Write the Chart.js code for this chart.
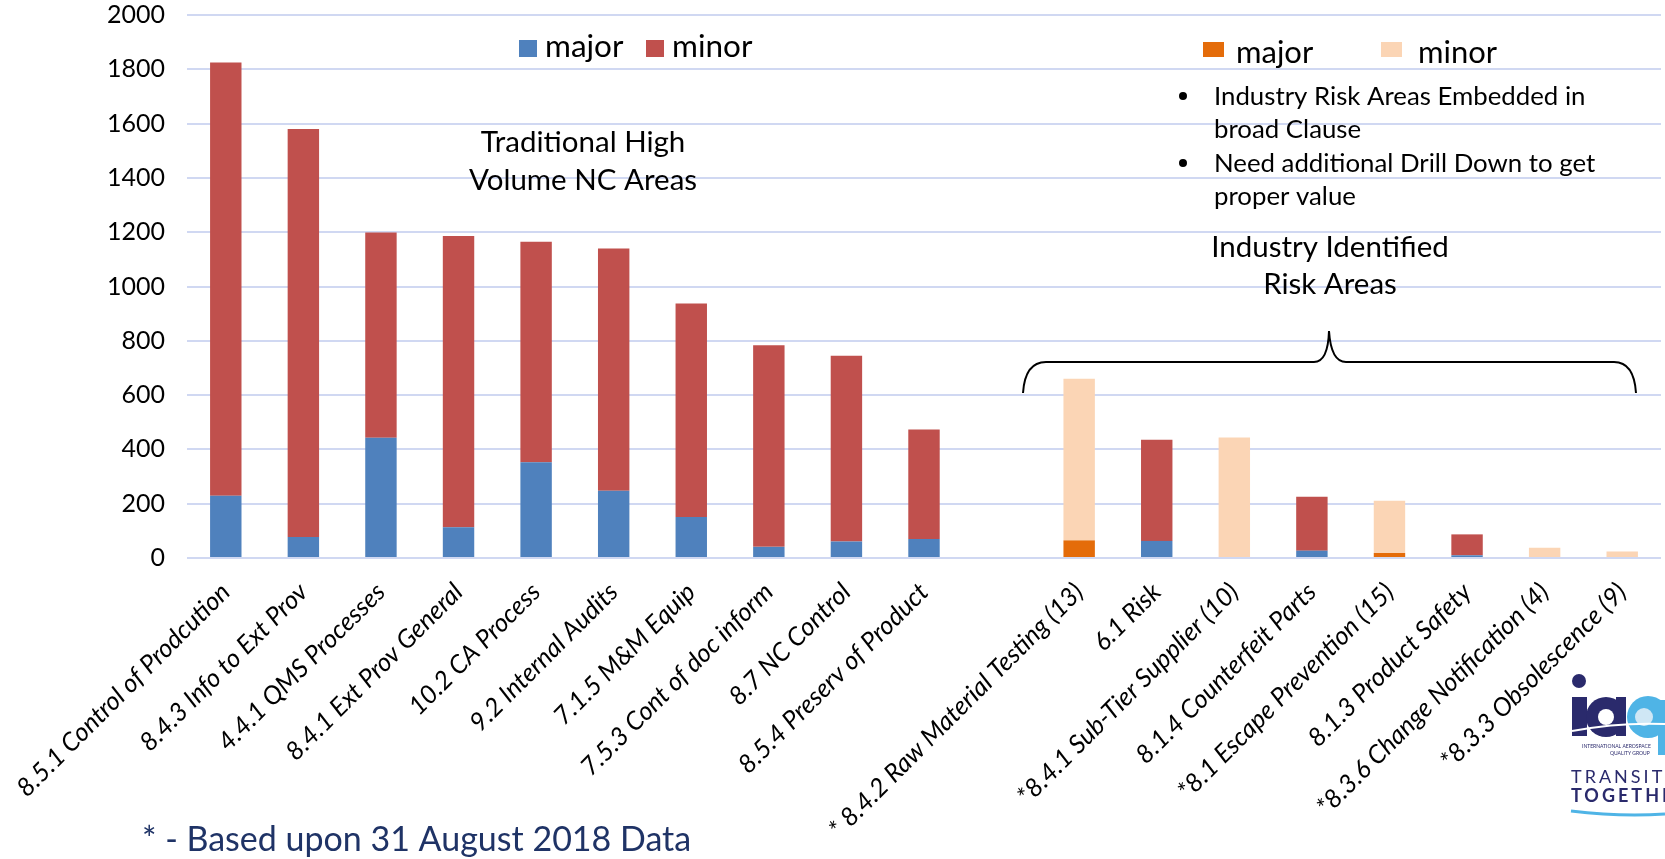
<!DOCTYPE html>
<html>
<head>
<meta charset="utf-8">
<script src="https://cdn.jsdelivr.net/npm/chart.js@4"></script>
<style>
  body { margin: 0; background: #fff; }
  #wrap { width: 1665px; height: 859px; }
</style>
</head>
<body>
<div id="wrap"><canvas id="ncChart" width="1665" height="859"></canvas></div>
<script>
// Nonconformity counts by clause (31 Aug 2018 data)

const categories = [
    "8.5.1 Control of Prodcution",
    "8.4.3 Info to Ext Prov",
    "4.4.1 QMS Processes",
    "8.4.1 Ext Prov General",
    "10.2 CA Process",
    "9.2 Internal Audits",
    "7.1.5 M&M Equip",
    "7.5.3 Cont of doc inform",
    "8.7 NC Control",
    "8.5.4 Preserv of Product",
    "",
    "* 8.4.2 Raw Material Testing (13)",
    "6.1 Risk",
    "*8.4.1 Sub-Tier Supplier (10)",
    "8.1.4 Counterfeit Parts",
    "*8.1 Escape Prevention (15)",
    "8.1.3 Product Safety",
    "*8.3.6 Change Notification (4)",
    "*8.3.3 Obsolescence (9)"
];

// traditional clauses (blue / red)
const majorValues = [229, 77, 443, 113, 353, 248, 151, 41, 61, 70, null, null, 63, 4, 27, null, 10, null, null];
const minorValues = [1596, 1503, 756, 1073, 812, 892, 786, 743, 684, 403, null, null, 373, null, 199, null, 77, null, null];

// industry risk areas (orange / peach)
const riskMajorValues = [null, null, null, null, null, null, null, null, null, null, null, 65, null, null, null, 18, null, null, null];
const riskMinorValues = [null, null, null, null, null, null, null, null, null, null, null, 595, null, 440, null, 193, null, 38, 24];

const yTicks = [0, 200, 400, 600, 800, 1000, 1200, 1400, 1600, 1800, 2000];

const FONT = "Lato";
Chart.defaults.font.family = FONT;
Chart.defaults.color = "#000";

// everything drawn on top of the chart: legends, notes, brace, footer, logo
const overlay = {
    id: "overlay",
    afterDraw(chart) {
        const c = chart.ctx;
        const ds = chart.data.datasets;
        c.save();
        c.textBaseline = "alphabetic";
        c.textAlign = "left";

        // legend 1 (blue / red)
        c.font = "31.5px " + FONT;
        c.fillStyle = ds[0].backgroundColor;
        c.fillRect(519, 40, 18, 17);
        c.fillStyle = "#000";
        c.fillText(ds[0].label, 545, 57);
        c.fillStyle = ds[1].backgroundColor;
        c.fillRect(646, 40, 18, 17);
        c.fillStyle = "#000";
        c.fillText(ds[1].label, 672, 57);

        // legend 2 (orange / peach)
        c.font = "31px " + FONT;
        c.fillStyle = ds[2].backgroundColor;
        c.fillRect(1203, 42, 21, 15);
        c.fillStyle = "#000";
        c.fillText(ds[2].label, 1236, 63);
        c.fillStyle = ds[3].backgroundColor;
        c.fillRect(1381, 42, 21, 15);
        c.fillStyle = "#000";
        c.fillText(ds[3].label, 1418, 63);

        // bullet notes
        c.font = "25.8px " + FONT;
        c.fillText("Industry Risk Areas Embedded in", 1214, 105);
        c.fillText("broad Clause", 1214, 138);
        c.fillText("Need additional Drill Down to get", 1214, 172);
        c.fillText("proper value", 1214, 205);
        c.beginPath();
        c.arc(1183, 96, 4, 0, Math.PI * 2);
        c.arc(1183, 163, 4, 0, Math.PI * 2);
        c.fill();

        // group titles
        c.textAlign = "center";
        c.font = "29.5px " + FONT;
        c.fillText("Traditional High", 583, 152);
        c.fillText("Volume NC Areas", 583, 190);
        c.fillText("Industry Identified", 1330, 257);
        c.fillText("Risk Areas", 1330, 294);

        // curly brace over the risk areas
        c.strokeStyle = "#000";
        c.lineWidth = 2;
        c.beginPath();
        c.moveTo(1023, 393);
        c.quadraticCurveTo(1025, 362, 1046, 362);
        c.lineTo(1314, 362);
        c.quadraticCurveTo(1328, 362, 1329, 331);
        c.quadraticCurveTo(1331, 362, 1346, 362);
        c.lineTo(1614, 362);
        c.quadraticCurveTo(1634, 362, 1636, 393);
        c.stroke();

        // footnote
        c.textAlign = "left";
        c.fillStyle = "#1f3366";
        c.font = "34px " + FONT;
        c.fillText("* - Based upon 31 August 2018 Data", 142, 851);

        // IAQG logo (simplified, runs off the right edge)
        const navy = "#2a2a6c";
        const sky = "#4fb4e6";
        c.fillStyle = navy;
        c.beginPath();
        c.arc(1579, 681, 7, 0, Math.PI * 2);
        c.fill();
        c.fillRect(1572, 697, 15, 39);
        c.beginPath();
        c.arc(1606, 717, 20, 0, Math.PI * 2);
        c.fill();
        c.fillRect(1616, 697, 10, 39);
        c.fillStyle = sky;
        c.beginPath();
        c.arc(1648, 717, 21, 0, Math.PI * 2);
        c.fill();
        c.fillRect(1658, 700, 12, 55);
        c.fillStyle = "#fff";
        c.beginPath();
        c.arc(1606, 717, 8, 0, Math.PI * 2);
        c.fill();
        c.fillStyle = "#cfe7f5";
        c.beginPath();
        c.arc(1644, 717, 9, 0, Math.PI * 2);
        c.fill();
        c.strokeStyle = "#fff";
        c.lineWidth = 2;
        c.beginPath();
        c.moveTo(1572, 731);
        c.quadraticCurveTo(1620, 722, 1665, 724);
        c.stroke();
        c.fillStyle = navy;
        c.font = "5px " + FONT;
        c.fillText("INTERNATIONAL AEROSPACE", 1582, 748);
        c.fillText("QUALITY GROUP", 1610, 755);
        c.font = "18px " + FONT;
        c.letterSpacing = "3px";
        c.fillText("TRANSITIONING", 1571, 783);
        c.font = "bold 18px " + FONT;
        c.fillText("TOGETHER", 1571, 802);
        c.strokeStyle = sky;
        c.lineWidth = 3;
        c.beginPath();
        c.moveTo(1571, 811);
        c.quadraticCurveTo(1620, 817, 1665, 814);
        c.stroke();

        c.restore();
    }
};

const ctx = document.getElementById("ncChart");

new Chart(ctx, {
    type: "bar",
    data: {
        labels: categories,
        datasets: [
            { label: "major", data: majorValues, backgroundColor: "#4f81bd" },
            { label: "minor", data: minorValues, backgroundColor: "#c0504d" },
            { label: "major", data: riskMajorValues, backgroundColor: "#e46c0a" },
            { label: "minor", data: riskMinorValues, backgroundColor: "#fbd5b5" }
        ]
    },
    options: {
        responsive: false,
        animation: false,
        layout: {
            padding: { top: 15, right: 4, left: 0, bottom: 0 }
        },
        datasets: {
            bar: { barPercentage: 0.405, categoryPercentage: 1.0 }
        },
        plugins: {
            legend: { display: false },
            tooltip: { enabled: false }
        },
        scales: {
            x: {
                stacked: true,
                grid: { display: false },
                border: { display: false },
                ticks: {
                    autoSkip: false,
                    maxRotation: 45,
                    minRotation: 45,
                    padding: 11,
                    color: "#000",
                    font: { size: 25.5, style: "italic" }
                },
                afterFit(scale) { scale.height = 301; }
            },
            y: {
                stacked: true,
                min: yTicks[0],
                max: yTicks[yTicks.length - 1],
                afterBuildTicks(scale) {
                    scale.ticks = yTicks.map(v => ({ value: v }));
                },
                grid: { color: "#d0d8f2", lineWidth: 2, drawTicks: false },
                border: { display: false },
                ticks: {
                    padding: 22,
                    color: "#000",
                    font: { size: 25 },
                    callback: v => String(v)
                },
                afterFit(scale) {
                    scale.width = 187;
                    scale.paddingTop = 0;
                }
            }
        }
    },
    plugins: [overlay]
});
</script>
</body>
</html>
